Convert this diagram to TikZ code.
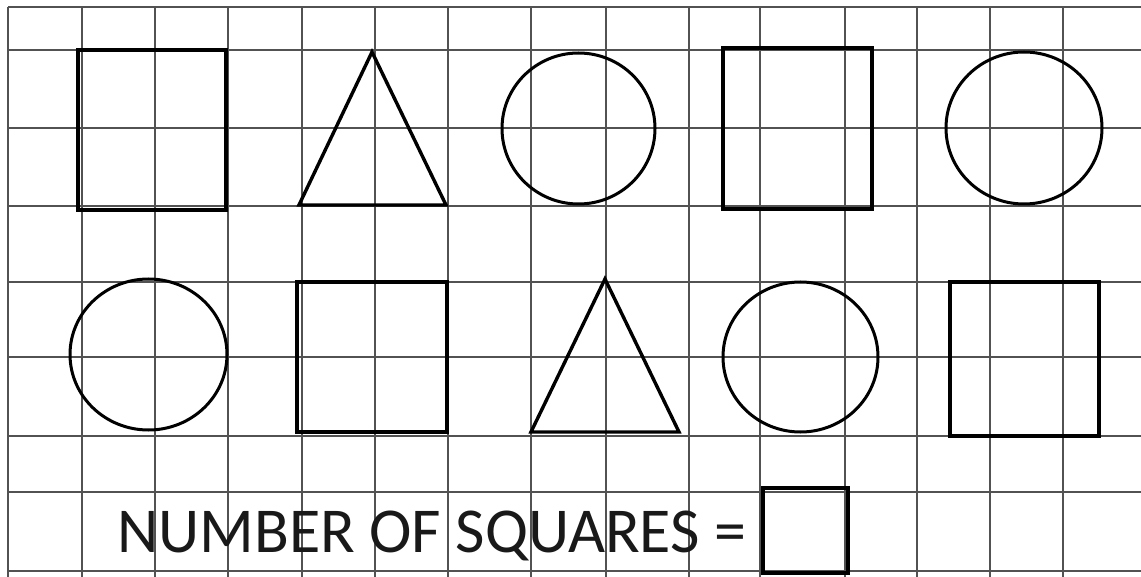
\documentclass[tikz,border=0pt]{standalone}
\usepackage{fontspec}
\setmainfont{Carlito}
\begin{document}
\begin{tikzpicture}[x=1pt,y=-1pt,
  gridline/.style={draw=black!68,line width=1.5pt},
  outl/.style={draw=black,line width=3.4pt,line join=miter},
  rndl/.style={draw=black,line width=3pt}]
\useasboundingbox (0,0) rectangle (1141,577);
\fill[white] (0,0) rectangle (1141,577);
% grid
\foreach \x in {8,82,155,228,302,375,448,531,606,689,760,845,917,990,1063}
  \draw[gridline] (\x,7) -- (\x,577);
\foreach \y in {7,50,128,206,282,357,436,492,571}
  \draw[gridline] (8,\y) -- (1141,\y);
% row 1
\draw[outl] (78,50) rectangle (226,210);
\draw[outl] (299,205) -- (372,52) -- (446,205) -- cycle;
\draw[rndl] (578.5,128.5) ellipse [x radius=76.5,y radius=75.5];
\draw[outl] (723,48) rectangle (872,209);
\draw[rndl] (1024,128) ellipse [x radius=78,y radius=76];
% row 2
\draw[rndl] (148.5,354.5) ellipse [x radius=78.5,y radius=75.5];
\draw[outl] (297,282) rectangle (447,432);
\draw[outl] (531,432) -- (605,279) -- (679,432) -- cycle;
\draw[rndl] (800.5,357) ellipse [x radius=77.5,y radius=75];
\draw[outl] (950,282) rectangle (1099,436);
% text and answer box
\node[anchor=base west,inner sep=0pt,font=\fontsize{64}{64}\selectfont,text=black!90] (label) at (117,552) {NUMBER OF SQUARES =};
\draw[outl] (763,488) rectangle (848,573);
\end{tikzpicture}
\end{document}
